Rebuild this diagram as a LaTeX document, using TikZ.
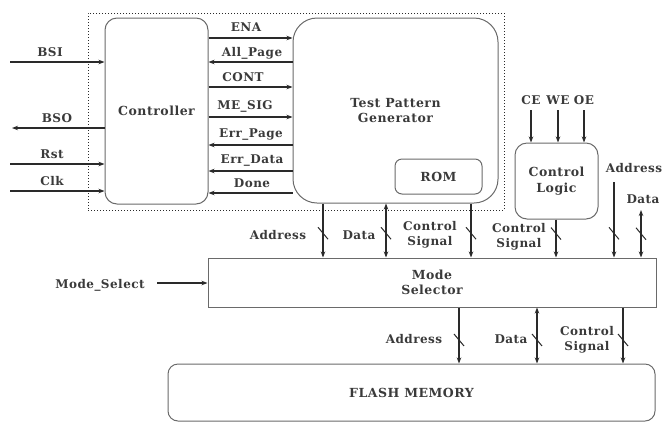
\documentclass[tikz,border=0pt]{standalone}
\usepackage{fontspec}
\setmainfont{DejaVu Serif}[LetterSpace=4]
\usetikzlibrary{arrows.meta}
\definecolor{boxgray}{HTML}{6A6A6A}
\definecolor{linegray}{HTML}{2A2A2A}
\definecolor{txt}{HTML}{3A3A3A}
\begin{document}
\begin{tikzpicture}[x=1pt,y=-1pt,
  box/.style={draw=boxgray, line width=1pt, inner sep=0pt, align=center, text=txt,
    font=\bfseries\fontsize{12.5}{15.5}\selectfont},
  sig/.style={draw=linegray, line width=1.2pt},
  arr/.style={sig, -{Stealth[length=6pt,width=4.5pt]}},
  barr/.style={sig, {Stealth[length=6pt,width=4.5pt]}-{Stealth[length=6pt,width=4.5pt]}},
  lbl/.style={text=txt, font=\bfseries\fontsize{12}{15}\selectfont, inner sep=0pt, align=center},
  busmark/.style={draw=linegray, line width=1pt}]
\useasboundingbox (0,0) rectangle (668,424);

% dotted frame
\node[draw=linegray, dotted, line width=1pt, minimum width=416pt, minimum height=197pt, inner sep=0pt] (frame) at (296,111.5) {};

% blocks
\node[box, rounded corners=12pt, minimum width=103pt, minimum height=186pt] (ctrl) at (156.5,111) {Controller};
\node[box, rounded corners=24pt, minimum width=205pt, minimum height=185pt] (tpg) at (395.5,110.5) {Test Pattern\\Generator};
\node[box, rounded corners=7pt, minimum width=87pt, minimum height=35pt] (rom) at (438.5,176.5) {ROM};
\node[box, rounded corners=12pt, minimum width=83pt, minimum height=76pt] (cl) at (556.5,181) {Control\\Logic};
\node[box, minimum width=448pt, minimum height=49pt] (ms) at (432,282.5) {Mode\\Selector};
\node[box, rounded corners=10pt, minimum width=487pt, minimum height=57pt] (flash) at (411.5,392.5) {FLASH MEMORY};

% left side signals
\coordinate (bsi) at (10,62);
\coordinate (bso) at (12,128);
\coordinate (rst) at (10,164);
\coordinate (clk) at (10,191);
\draw[arr] (bsi) -- (ctrl.west |- bsi);
\draw[arr] (ctrl.west |- bso) -- (bso);
\draw[arr] (rst) -- (ctrl.west |- rst);
\draw[arr] (clk) -- (ctrl.west |- clk);
\node[lbl] at (50,52) {BSI};
\node[lbl] at (57,118) {BSO};
\node[lbl] at (52,154) {Rst};
\node[lbl] at (52,181) {Clk};

% controller <-> TPG
\draw[arr] (ctrl.east |- 0,38) -- (tpg.west |- 0,38);
\draw[arr] (tpg.west |- 0,62) -- (ctrl.east |- 0,62);
\draw[arr] (ctrl.east |- 0,87) -- (tpg.west |- 0,87);
\draw[arr] (ctrl.east |- 0,117) -- (tpg.west |- 0,117);
\draw[arr] (tpg.west |- 0,145) -- (ctrl.east |- 0,145);
\draw[arr] (tpg.west |- 0,171) -- (ctrl.east |- 0,171);
\draw[arr] (tpg.west |- 0,193) -- (ctrl.east |- 0,193);
\node[lbl] at (246,27) {ENA};
\node[lbl] at (252,53) {All\_Page};
\node[lbl] at (243,77) {CONT};
\node[lbl] at (245,106) {ME\_SIG};
\node[lbl] at (251,135) {Err\_Page};
\node[lbl] at (252,161) {Err\_Data};
\node[lbl] at (252,183) {Done};

% TPG -> mode selector
\draw[arr] (tpg.south -| 323,0) -- coordinate[pos=0.55] (s1) (ms.north -| 323,0);
\draw[barr] (tpg.south -| 386,0) -- coordinate[pos=0.55] (s2) (ms.north -| 386,0);
\draw[arr] (tpg.south -| 471,0) -- coordinate[pos=0.55] (s3) (ms.north -| 471,0);
\node[lbl] at (278,235) {Address};
\node[lbl] at (359,235) {Data};
\node[lbl] at (430,235) {Control\\Signal};

% control logic inputs
\coordinate (ce) at (531,110);
\coordinate (we) at (558,110);
\coordinate (oe) at (584,110);
\draw[arr] (ce) -- (cl.north -| ce);
\draw[arr] (we) -- (cl.north -| we);
\draw[arr] (oe) -- (cl.north -| oe);
\node[lbl] at (531,100) {CE};
\node[lbl] at (558,100) {WE};
\node[lbl] at (584,100) {OE};

% control logic -> mode selector
\draw[arr] (cl.south -| 556,0) -- coordinate[pos=0.37] (s4) (ms.north -| 556,0);
\node[lbl] at (519,237) {Control\\Signal};

% external address/data
\coordinate (ea) at (614,182);
\coordinate (ed) at (641,210);
\draw[arr] (ea) -- coordinate[pos=0.68] (s5) (ms.north -| ea);
\draw[barr] (ed) -- coordinate[pos=0.5] (s6) (ms.north -| ed);
\node[lbl] at (634,168) {Address};
\node[lbl] at (643,199) {Data};

% mode select input
\coordinate (msel) at (157,283);
\draw[arr] (msel) -- (ms.west |- msel);
\node[lbl] at (100,285) {Mode\_Select};

% mode selector -> flash
\draw[arr] (ms.south -| 459,0) -- coordinate[pos=0.58] (s7) (flash.north -| 459,0);
\draw[barr] (ms.south -| 537,0) -- coordinate[pos=0.58] (s8) (flash.north -| 537,0);
\draw[arr] (ms.south -| 623,0) -- coordinate[pos=0.58] (s9) (flash.north -| 623,0);
\node[lbl] at (414,339) {Address};
\node[lbl] at (511,339) {Data};
\node[lbl] at (587,340) {Control\\Signal};

% bus marks
\foreach \s in {s1,s2,s3,s4,s5,s6,s7,s8,s9}
  \draw[busmark] (\s) ++(-5,-6) -- ++(10,12);
\end{tikzpicture}
\end{document}
